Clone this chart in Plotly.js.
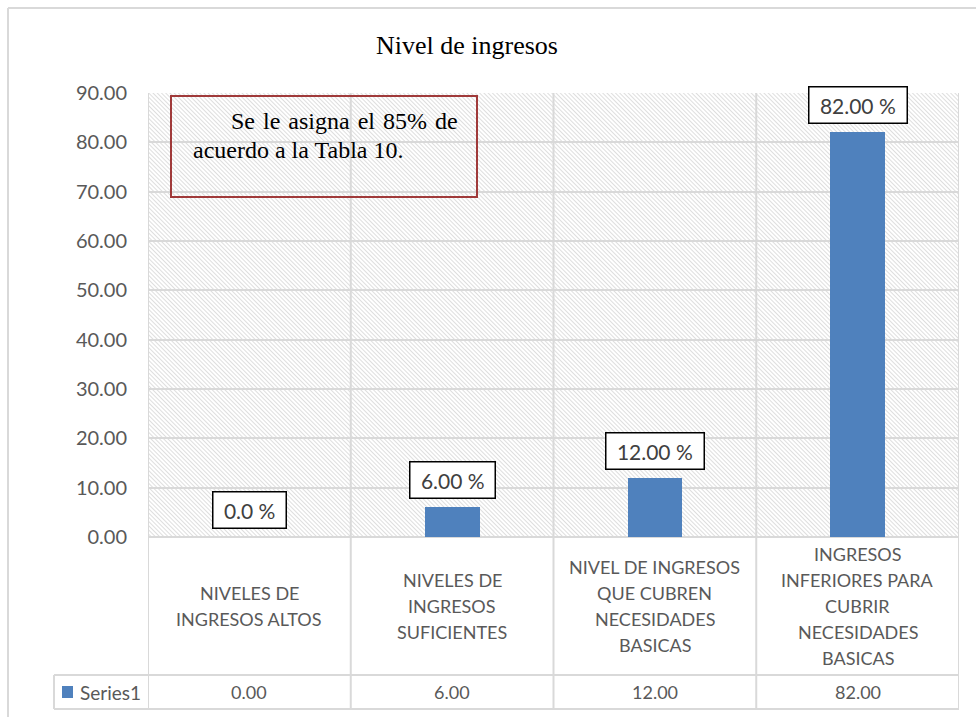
<!DOCTYPE html>
<html>
<head>
<meta charset="utf-8">
<script src="https://cdn.plot.ly/plotly-3.0.1.min.js"></script>
<style>
html,body{margin:0;padding:0;background:#fff;}
#chart{width:976px;height:717px;}
</style>
</head>
<body>
<div id="chart"></div>
<script>
// ---- data ----
const categories = [
  'NIVELES DE INGRESOS ALTOS',
  'NIVELES DE INGRESOS SUFICIENTES',
  'NIVEL DE INGRESOS QUE CUBREN NECESIDADES BASICAS',
  'INGRESOS INFERIORES PARA CUBRIR NECESIDADES BASICAS'
];
const categoryLines = [
  ['NIVELES DE', 'INGRESOS ALTOS'],
  ['NIVELES DE', 'INGRESOS', 'SUFICIENTES'],
  ['NIVEL DE INGRESOS', 'QUE CUBREN', 'NECESIDADES', 'BASICAS'],
  ['INGRESOS', 'INFERIORES PARA', 'CUBRIR', 'NECESIDADES', 'BASICAS']
];
const values = [0, 6, 12, 82];
const dataLabels = ['0.0 %', '6.00 %', '12.00 %', '82.00 %'];
const seriesName = 'Series1';
const chartTitle = 'Nivel de ingresos';
const noteLines = ['Se le asigna el 85% de', 'acuerdo a la Tabla 10.'];
const yMin = 0, yMax = 90, yStep = 10;

// ---- layout helpers (pixel -> paper) ----
const W = 976, H = 717;
const M = {l: 148, r: 17, t: 93, b: 180};
const PW = W - M.l - M.r, PH = H - M.t - M.b;
const px = p => (p - M.l) / PW;
const py = p => (M.t + PH - p) / PH;

const sans = 'Lato, "Open Sans", sans-serif';
const serif = '"Liberation Serif", "Times New Roman", serif';
const grid = '#d9d9d9';
const barColor = '#4f81bd';

// hatch pattern for the plot area
const hatchSvg = "<svg xmlns='http://www.w3.org/2000/svg' width='" + PW + "' height='" + PH + "'>" +
  "<defs><pattern id='h' width='3' height='3' patternUnits='userSpaceOnUse' patternTransform='rotate(-45)'>" +
  "<line x1='0.5' y1='0' x2='0.5' y2='3' stroke='#dadada' stroke-width='0.9'/></pattern></defs>" +
  "<rect width='100%' height='100%' fill='url(#h)'/></svg>";
const hatchUri = 'data:image/svg+xml;charset=utf-8,' + encodeURIComponent(hatchSvg);

const trace = {
  type: 'bar',
  x: categories,
  y: values,
  width: 0.27,
  marker: {color: barColor},
  hoverinfo: 'skip',
  showlegend: false
};

const shapes = [];
const annotations = [];

// outer chart border (top + left visible)
shapes.push({type: 'line', xref: 'paper', yref: 'paper', x0: px(8), x1: px(990), y0: py(8), y1: py(8), line: {color: grid, width: 2}});
shapes.push({type: 'line', xref: 'paper', yref: 'paper', x0: px(8), x1: px(8), y0: py(8), y1: py(730), line: {color: grid, width: 2}});

// data table: vertical lines at category boundaries
const tableBottom = 709, rowLine = 675, legendLeft = 54;
for (let i = 0; i <= categories.length; i++) {
  shapes.push({type: 'line', xref: 'x', yref: 'paper', x0: i - 0.5, x1: i - 0.5, y0: 1, y1: py(tableBottom),
    line: {color: grid, width: 2}, layer: 'below'});
}
// horizontal table lines
shapes.push({type: 'line', xref: 'paper', yref: 'paper', x0: px(legendLeft), x1: 1, y0: py(rowLine), y1: py(rowLine), line: {color: grid, width: 2}});
shapes.push({type: 'line', xref: 'paper', yref: 'paper', x0: px(legendLeft), x1: 1, y0: py(tableBottom), y1: py(tableBottom), line: {color: grid, width: 2}});
shapes.push({type: 'line', xref: 'paper', yref: 'paper', x0: px(legendLeft), x1: px(legendLeft), y0: py(rowLine), y1: py(tableBottom), line: {color: grid, width: 2}});
// legend key square
shapes.push({type: 'rect', xref: 'paper', yref: 'paper', x0: px(62), x1: px(73), y0: py(686), y1: py(698), fillcolor: barColor, line: {width: 0}});
annotations.push({xref: 'paper', yref: 'paper', x: px(78), y: py(692), xanchor: 'left', yanchor: 'middle',
  text: seriesName, showarrow: false, font: {family: sans, size: 19, color: '#595959'}});

// category labels (one annotation per line, 26px line pitch)
const catCenter = (M.t + PH + rowLine) / 2;
categoryLines.forEach((lines, i) => {
  const n = lines.length;
  lines.forEach((ln, k) => {
    annotations.push({xref: 'x', yref: 'paper', x: categories[i], y: py(catCenter), yanchor: 'middle',
      yshift: -((k - (n - 1) / 2) * 26), text: ln, showarrow: false,
      font: {family: sans, size: 18, color: '#595959'}});
  });
});

// table values row
values.forEach((v, i) => {
  annotations.push({xref: 'x', yref: 'paper', x: categories[i], y: py((rowLine + tableBottom) / 2), yanchor: 'middle',
    text: v.toFixed(2), showarrow: false, font: {family: sans, size: 18, color: '#595959'}});
});

// boxed data labels
values.forEach((v, i) => {
  annotations.push({xref: 'x', yref: 'y', x: categories[i], y: v, yanchor: 'bottom', yshift: 8,
    text: '&nbsp;' + dataLabels[i] + '&nbsp;', showarrow: false,
    font: {family: sans, size: 21, color: '#404040'},
    bgcolor: '#ffffff', bordercolor: '#000000', borderwidth: 1.5, borderpad: 5});
});

// note box (first line justified wider, as in the reference)
shapes.push({type: 'rect', xref: 'paper', yref: 'paper', x0: px(171), x1: px(477), y0: py(96), y1: py(197),
  line: {color: '#a03a3a', width: 2}, fillcolor: 'rgba(0,0,0,0)'});
annotations.push({xref: 'paper', yref: 'paper', x: px(229), y: py(121), xanchor: 'left', yanchor: 'middle',
  text: '<span style="word-spacing:2px">' + noteLines[0] + '</span>', showarrow: false,
  font: {family: serif, size: 24, color: '#000'}});
annotations.push({xref: 'paper', yref: 'paper', x: px(191), y: py(150), xanchor: 'left', yanchor: 'middle',
  text: noteLines[1], showarrow: false, font: {family: serif, size: 24, color: '#000'}});

const yTickVals = [];
for (let v = yMin; v <= yMax; v += yStep) yTickVals.push(v);

const layout = {
  width: W, height: H,
  margin: M,
  paper_bgcolor: '#ffffff',
  plot_bgcolor: '#ffffff',
  title: {text: chartTitle, x: 467 / W, xanchor: 'center', y: 1 - 45 / H, yanchor: 'middle',
    font: {family: serif, size: 26, color: '#000'}},
  xaxis: {type: 'category', range: [-0.5, categories.length - 0.5], showticklabels: false,
    showgrid: false, zeroline: false, showline: false, ticks: '', fixedrange: true},
  yaxis: {range: [yMin, yMax], tickvals: yTickVals, tickformat: '.2f', showgrid: true, gridcolor: grid, gridwidth: 2,
    zeroline: true, zerolinecolor: grid, zerolinewidth: 2, showline: false, ticks: '', ticklabelstandoff: 20,
    tickfont: {family: sans, size: 20, color: '#595959'}, fixedrange: true},
  bargap: 0,
  showlegend: false,
  images: [{source: hatchUri, xref: 'paper', yref: 'paper', x: 0, y: 1, sizex: 1, sizey: 1,
    xanchor: 'left', yanchor: 'top', sizing: 'stretch', layer: 'below'}],
  shapes: shapes,
  annotations: annotations
};

Plotly.newPlot('chart', [trace], layout, {displayModeBar: false, staticPlot: true});
</script>
</body>
</html>
